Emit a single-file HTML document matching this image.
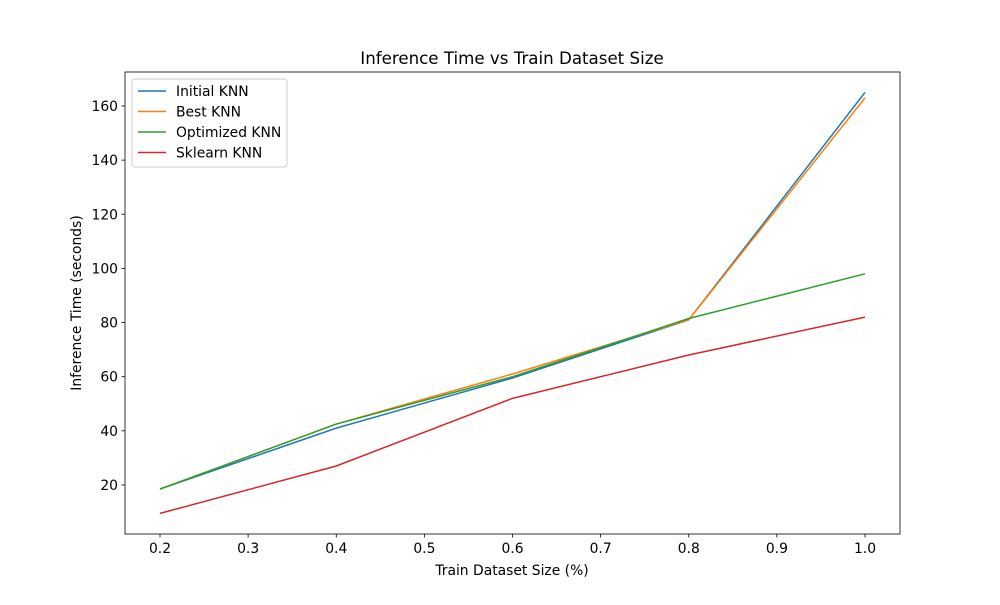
<!DOCTYPE html>
<html><head><meta charset="utf-8"><style>
body{margin:0;background:#fff;font-family:"Liberation Sans","DejaVu Sans",sans-serif}
svg text{font-family:"DejaVu Sans","Liberation Sans",sans-serif}
</style></head><body>
<svg id="chart" width="1000" height="600" xmlns="http://www.w3.org/2000/svg">
<rect width="1000" height="600" fill="#fff"/>
<text x="512" y="64" font-size="16.67" text-anchor="middle">Inference Time vs Train Dataset Size</text>
<g id="marks"></g>
<rect x="125" y="72" width="775" height="462" fill="none" stroke="#000" stroke-width="0.8"/>
<text x="512" y="575" font-size="13.89" text-anchor="middle">Train Dataset Size (%)</text>
<text transform="translate(81,303) rotate(-90)" font-size="13.89" text-anchor="middle">Inference Time (seconds)</text>
<g id="legend"></g>
</svg>
<script>
const xValues=[0.2,0.4,0.6,0.8,1.0];
const xTicks=[0.2,0.3,0.4,0.5,0.6,0.7,0.8,0.9,1.0];
const yTicks=[20,40,60,80,100,120,140,160];
const seriesNames=["Initial KNN","Best KNN","Optimized KNN","Sklearn KNN"];
const initialKnn=[18.5,41,59.5,81,165];
const bestKnn=[18.5,42.5,61,81,163];
const optimizedKnn=[18.5,42.5,60,81.5,98];
const sklearnKnn=[9.5,27,52,68,82];
const colors=["#1f77b4","#ff7f0e","#2ca02c","#d62728"];
const NS="http://www.w3.org/2000/svg";
const sx=v=>160+(v-0.2)*881.25;
const sy=v=>539.1-v*2.707;
const g=document.getElementById('marks');
function mk(t,a,p){const e=document.createElementNS(NS,t);for(const k in a)e.setAttribute(k,a[k]);(p||g).appendChild(e);return e;}
xTicks.forEach(t=>{
 const l=mk('line',{x1:sx(t),x2:sx(t),y1:534,y2:537.5,stroke:'#000','stroke-width':0.8});
 
 
 const tx=mk('text',{x:sx(t),y:553,'font-size':13.89,'text-anchor':'middle'});tx.textContent=t.toFixed(1);
 
 
});
yTicks.forEach(t=>{
 const l=mk('line',{x1:121.5,x2:125,y1:sy(t),y2:sy(t),stroke:'#000','stroke-width':0.8});
 
 
 const tx=mk('text',{x:118,y:sy(t)+5,'font-size':13.89,'text-anchor':'end'});tx.textContent=t;
 
 
});
const allSeries=[initialKnn,bestKnn,optimizedKnn,sklearnKnn];
allSeries.forEach((s,i)=>{
 const p=mk('polyline',{points:s.map((v,j)=>sx(xValues[j])+','+sy(v)).join(' '),fill:'none',stroke:colors[i],'stroke-width':1.5});
 
 
});
const lg=document.getElementById('legend');
mk('rect',{x:132,y:79,width:155,height:88,rx:3,fill:'#fff',stroke:'#ccc','stroke-width':1},lg);
seriesNames.forEach((n,i)=>{
 const y=91+i*20.5;
 const l=mk('line',{x1:138,x2:166,y1:y,y2:y,stroke:colors[i],'stroke-width':1.5},lg);
 
 
 const t=mk('text',{x:176,y:y+5,'font-size':13.89},lg);t.textContent=n;
 
 
});
</script>
</body></html>
